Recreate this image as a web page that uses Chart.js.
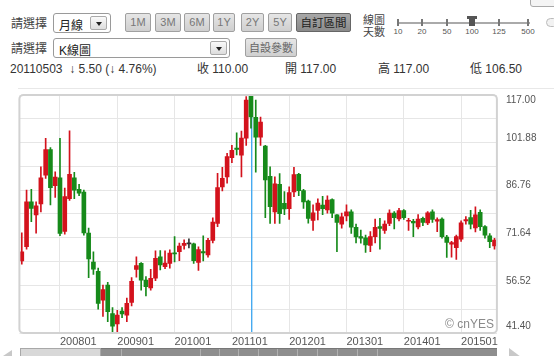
<!DOCTYPE html>
<html><head><meta charset="utf-8">
<script src="https://cdn.jsdelivr.net/npm/chart.js@4"></script>
<style>
html,body{margin:0;padding:0;background:#fff;}
body{width:554px;height:356px;overflow:hidden;position:relative;font-family:"Liberation Sans",Arial,"Noto Sans CJK TC",sans-serif;color:#333;}
.a{position:absolute;white-space:nowrap;}
.lbl{font-size:12px;color:#444;font-family:"Noto Sans CJK TC","Liberation Sans",sans-serif;line-height:14px;}
.sel{border:1px solid #9a9a9a;border-radius:3px;background:#fff;box-sizing:border-box;font-size:12px;font-family:"Liberation Sans","Noto Sans CJK TC",sans-serif;color:#222;}
.dd{position:absolute;top:2px;width:17px;height:14px;border:1px solid #aaa;border-radius:2px;background:linear-gradient(#fafafa,#ddd);box-sizing:border-box;}
.dd:after{content:"";position:absolute;left:5px;top:5px;border-left:3px solid transparent;border-right:3px solid transparent;border-top:4px solid #222;}
.btn{border:1px solid #a0a0a0;border-radius:2px;background:linear-gradient(#e6e6e6,#cfcfcf);box-sizing:border-box;font-size:11px;color:#777;text-align:center;line-height:17px;height:19px;top:13px;}
.info{font-size:12px;color:#333;top:62px;line-height:14px;font-family:"Liberation Sans","Noto Sans CJK TC",sans-serif;}
.tk{position:absolute;width:2px;height:7px;background:#777;top:19px;}
.tl{position:absolute;top:27px;font-size:8px;color:#555;transform:translateX(-50%);}
#c{position:absolute;left:0;top:88px;}
</style></head>
<body>
<div class="a" style="left:18px;top:88px;width:536px;height:1px;background:#e8e8e8"></div>

<div class="a lbl" style="left:11px;top:16px">請選擇</div>
<div class="a sel" style="left:53px;top:13px;width:58px;height:20px;padding:2px 0 0 5px;">月線<div class="dd" style="left:36px"></div></div>
<div class="a btn" style="left:125px;width:26px">1M</div>
<div class="a btn" style="left:155px;width:26px">3M</div>
<div class="a btn" style="left:184px;width:26px">6M</div>
<div class="a btn" style="left:213px;width:22px">1Y</div>
<div class="a btn" style="left:241px;width:23px">2Y</div>
<div class="a btn" style="left:268px;width:24px">5Y</div>
<div class="a btn" style="left:296px;width:55px;background:linear-gradient(#a8a8a8,#8a8a8a);border-color:#666;color:#222;font-family:'Noto Sans CJK TC',sans-serif;font-size:11.5px">自訂區間</div>

<div class="a lbl" style="left:363px;top:13px;font-size:11px;line-height:12px">線圖<br>天數</div>
<div class="a" style="left:397px;top:22px;width:133px;height:2px;background:#aaa"></div>
<div class="tk" style="left:397px"></div><div class="tk" style="left:421px"></div><div class="tk" style="left:446px"></div>
<div class="tk" style="left:498px"></div><div class="tk" style="left:527px"></div>
<div class="a" style="left:467px;top:16px;width:10px;height:3px;background:#555"></div>
<div class="a" style="left:469px;top:18px;width:6px;height:8px;background:#555"></div>
<div class="tl" style="left:398px">10</div><div class="tl" style="left:422px">20</div><div class="tl" style="left:447px">50</div>
<div class="tl" style="left:472px">100</div><div class="tl" style="left:499px">125</div><div class="tl" style="left:528px">500</div>
<div class="a" style="left:530px;top:-6px;width:30px;height:13px;border:1px solid #aaa;border-radius:3px;background:#f4f4f4;box-sizing:border-box"></div>
<div class="a" style="left:546px;top:18px;width:12px;height:9px;border:1px solid #bbb;border-radius:6px;background:#f2f2f2;box-sizing:border-box"></div>

<div class="a lbl" style="left:11px;top:41px">請選擇</div>
<div class="a sel" style="left:53px;top:38px;width:177px;height:20px;padding:2px 0 0 5px;">K線圖<div class="dd" style="left:156px"></div></div>
<div class="a btn" style="left:245px;top:38px;width:52px;font-family:'Noto Sans CJK TC',sans-serif;color:#666">自設參數</div>

<div class="a info" style="left:10px">20110503 &nbsp;↓ 5.50 (↓ 4.76%)</div>
<div class="a info" style="left:197px">收 110.00</div>
<div class="a info" style="left:285px">開 117.00</div>
<div class="a info" style="left:378px">高 117.00</div>
<div class="a info" style="left:470px">低 106.50</div>

<canvas id="c" width="554" height="268"></canvas>

<div class="a" style="left:0;top:350px;width:0;height:0;border-left:12px solid transparent;border-bottom:8px solid #c8c8c8"></div>
<div class="a" style="left:20px;top:348px;width:81px;height:9px;background:#d8d8d8;border:1px solid #a8a8a8;box-sizing:border-box"></div>
<div class="a" id="dark" style="left:101px;top:348px;width:396px;height:9px;background:#8e8e8e;border-top:1px solid #777;box-sizing:border-box"></div>
<div class="a" style="left:509px;top:348px;width:0;height:0;border-right:12px solid transparent;border-bottom:9px solid #c8c8c8"></div>

<script>
const months = ['200705','200706','200707','200708','200709','200710','200711','200712',
'200801','200802','200803','200804','200805','200806','200807','200808','200809','200810','200811','200812',
'200901','200902','200903','200904','200905','200906','200907','200908','200909','200910','200911','200912',
'201001','201002','201003','201004','201005','201006','201007','201008','201009','201010','201011','201012',
'201101','201102','201103','201104','201105','201106','201107','201108','201109','201110','201111','201112',
'201201','201202','201203','201204','201205','201206','201207','201208','201209','201210','201211','201212',
'201301','201302','201303','201304','201305','201306','201307','201308','201309','201310','201311','201312',
'201401','201402','201403','201404','201405','201406','201407','201408','201409','201410','201411','201412',
'201501','201502','201503','201504','201505','201506','201507','201508'];

const opens = [64.3,68.8,83.1,78.9,82.4,91.5,99.7,88.2,90.7,73.7,
84.1,90.7,87.0,86.2,73.1,63.9,61.0,51.8,56.6,47.6,
44.3,48.4,47.1,51.1,61.6,63.5,58.2,55.7,58.8,65.6,
62.5,63.5,66.9,67.2,69.2,69.7,69.7,63.8,67.3,66.2,
70.8,76.2,87.8,91.0,97.1,100.1,97.9,103.3,117.0,109.9,
103.6,100.8,91.2,79.9,88.6,82.6,80.9,86.2,91.8,86.6,
83.3,77.2,80.3,82.0,80.5,83.8,78.9,76.0,78.6,79.9,
75.0,72.0,71.6,69.2,72.0,75.2,74.0,76.2,79.5,77.6,
80.3,76.9,76.9,75.1,77.8,76.4,79.9,76.9,77.6,71.9,
69.6,68.5,71.2,77.0,78.1,74.8,79.7,75.2,72.3,69.1];

const highs = [73.2,86.8,87.0,83.1,94.2,103.2,100.3,92.6,103.2,87.4,
105.6,92.4,88.6,86.8,74.7,67.2,62.0,56.6,57.5,49.5,
48.6,49.5,52.5,59.0,65.6,63.8,59.3,61.6,67.5,67.6,
67.5,67.8,72.0,70.0,71.0,71.3,70.0,68.8,72.3,71.5,
78.0,92.1,94.0,98.5,101.0,105.0,105.5,116.5,117.0,115.4,
110.0,101.0,94.2,91.0,92.0,86.3,87.8,94.0,92.1,87.0,
83.6,82.1,84.0,84.8,85.0,84.0,79.0,79.5,82.1,80.5,
76.0,74.1,72.5,73.6,77.6,77.8,77.0,80.5,80.0,81.0,
80.6,77.8,77.5,79.0,78.2,80.0,80.5,78.0,78.0,72.4,
70.5,72.5,77.0,78.4,80.4,81.5,80.5,75.5,73.0,71.5];

const lows = [63.3,68.0,76.8,73.1,79.9,90.5,82.1,84.5,72.3,72.8,
83.5,84.1,85.0,72.5,59.0,60.0,49.0,46.7,45.0,41.2,
41.8,46.3,45.0,50.0,59.1,55.0,53.2,55.0,58.0,61.4,
61.8,62.0,64.0,64.4,68.0,68.4,63.5,61.3,64.3,65.5,
70.0,75.2,86.5,89.0,95.5,98.0,91.0,101.0,106.5,92.5,
101.0,78.0,76.2,76.2,76.2,79.0,77.5,84.7,85.0,81.0,
76.3,74.0,77.3,79.0,79.5,78.0,67.2,74.7,77.0,73.0,
70.0,69.9,67.0,67.2,70.0,68.0,73.0,75.5,74.5,77.0,
77.5,74.0,72.0,74.5,75.5,75.8,76.5,73.6,71.5,65.4,
65.5,64.8,70.5,76.0,74.5,73.5,74.0,71.5,68.5,68.0];

const closes = [67.2,83.1,81.0,81.8,90.7,99.7,87.6,90.9,73.0,84.7,
91.8,86.8,85.8,73.2,64.9,61.7,50.8,55.2,48.2,43.6,
47.1,47.5,50.8,57.8,62.8,58.2,56.1,58.8,65.1,63.0,
63.6,66.8,66.5,69.0,69.9,69.7,64.4,67.9,66.8,70.8,
76.6,87.6,90.5,97.4,99.4,99.7,103.3,115.4,110.0,103.6,
108.4,90.0,81.5,88.8,79.3,80.8,86.0,91.7,86.6,83.0,
77.8,79.6,82.7,80.9,83.6,79.5,76.5,78.3,79.9,75.0,
71.9,71.5,69.4,72.0,75.0,74.6,76.0,79.5,78.0,80.3,
78.0,77.1,76.4,77.6,76.5,79.6,77.5,77.4,72.0,70.2,
70.1,72.0,76.4,77.4,76.0,78.9,75.2,72.5,70.4,70.9];

const yGridValues = [41.40,48.96,56.52,64.08,71.64,79.20,86.76,94.32,101.88,109.44,117.00];
const yLabelValues = [41.40,56.52,71.64,86.76,101.88,117.00];
const xTickLabels = ['200801','200901','201001','201101','201201','201301','201401','201501'];
const markedMonth = '201105';

const UP = '#d3121c', DOWN = '#168a1a', FLAT = '#333333';
const candleColor = months.map((m, i) => closes[i] > opens[i] ? UP : (closes[i] < opens[i] ? DOWN : FLAT));

const overlay = {
  id: 'overlay',
  beforeDatasetsDraw(chart) {
    const {ctx, chartArea: a, scales: {x}} = chart;
    const px = Math.round(x.getPixelForValue(months.indexOf(markedMonth)));
    ctx.save();
    ctx.globalAlpha = 1;
    ctx.globalCompositeOperation = 'source-over';
    ctx.fillStyle = 'rgb(70,170,240)';
    ctx.fillRect(px, a.top, 1.4, a.bottom - a.top);
    ctx.restore();
  },
  afterDraw(chart) {
    const {ctx, chartArea: a, scales: {x, y}} = chart;
    ctx.save();
    ctx.strokeStyle = '#d2d2d2';
    ctx.lineWidth = 2;
    ctx.beginPath();
    ctx.roundRect(a.left, a.top, a.right - a.left, a.bottom - a.top, 4);
    ctx.stroke();
    ctx.fillStyle = '#555';
    ctx.font = '10px "Liberation Sans", Arial, sans-serif';
    ctx.textAlign = 'left';
    ctx.textBaseline = 'middle';
    yLabelValues.forEach(v => {
      let py = y.getPixelForValue(v) - 4.5;
      py = Math.max(a.top + 5, Math.min(a.bottom - 7, py));
      ctx.fillText(v.toFixed(2), a.right + 9, py);
    });
    ctx.font = '11px "Liberation Sans", Arial, sans-serif';
    xTickLabels.forEach(l => {
      const px = x.getPixelForValue(months.indexOf(l));
      ctx.fillText(l, px, a.bottom + 9);
    });
    ctx.fillStyle = '#8a8a8a';
    ctx.font = '12px "Liberation Sans", Arial, sans-serif';
    ctx.textAlign = 'right';
    ctx.fillText('\u00A9 cnYES', a.right - 3, a.bottom - 8);
    ctx.restore();
  }
};

new Chart(document.getElementById('c'), {
  type: 'bar',
  data: {
    labels: months,
    datasets: [
      {
        label: 'wick',
        data: months.map((m, i) => [lows[i], highs[i]]),
        backgroundColor: candleColor,
        barThickness: 1,
        grouped: false,
        order: 2
      },
      {
        label: 'body',
        data: months.map((m, i) => [opens[i], closes[i]]),
        backgroundColor: candleColor,
        barThickness: 4,
        minBarLength: 1,
        grouped: false,
        order: 1
      }
    ]
  },
  options: {
    responsive: false,
    animation: false,
    devicePixelRatio: 1,
    layout: {padding: {left: 19.4, right: 57.1, top: 7, bottom: 23}},
    plugins: {legend: {display: false}, tooltip: {enabled: false}},
    scales: {
      x: {
        offset: true,
        grid: {
          offset: false,
          drawTicks: false,
          color: c => (c.tick && xTickLabels.includes(months[c.tick.value])) ? '#e6e6e6' : 'rgba(0,0,0,0)'
        },
        border: {display: false},
        ticks: {display: false, autoSkip: false}
      },
      y: {
        position: 'right',
        min: 41.4,
        max: 117,
        afterBuildTicks: s => { s.ticks = yGridValues.map(v => ({value: v})); },
        grid: {color: '#e6e6e6', drawTicks: false},
        border: {display: false},
        ticks: {display: false}
      }
    }
  },
  plugins: [overlay]
});

const dark = document.getElementById('dark');
[20, 99, 118, 137, 157, 176, 196, 216, 236, 256, 276].forEach(p => {
  const d = document.createElement('div');
  d.style.cssText = 'position:absolute;top:0;width:1px;height:9px;background:#b0b0b0;left:' + p + 'px';
  dark.appendChild(d);
});
</script>
</body></html>
